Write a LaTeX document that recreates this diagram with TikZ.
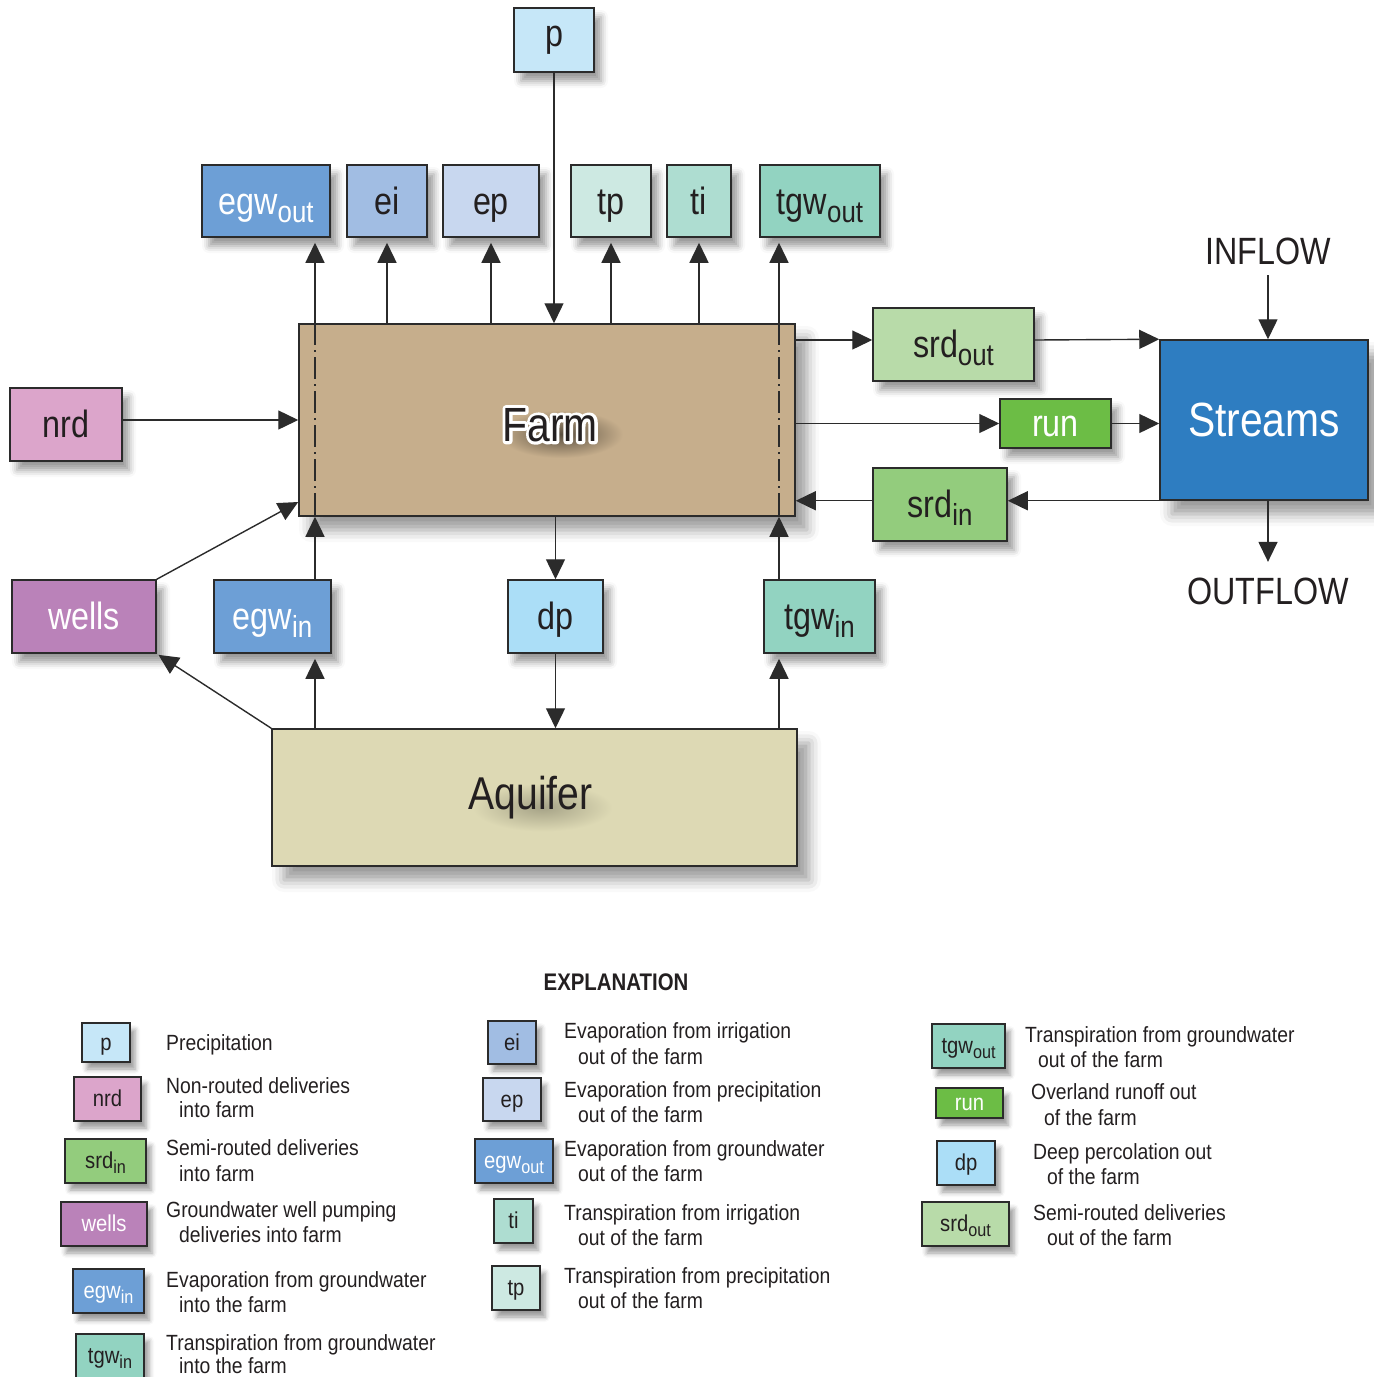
\documentclass[tikz,border=0pt]{standalone}
\usepackage{fontspec}
\setmainfont{Liberation Sans}[FakeStretch=0.85]
\newfontfamily\legf{Liberation Sans}[FakeStretch=0.88]
\usetikzlibrary{arrows.meta,shadows.blur,calc}
\definecolor{lc}{HTML}{2B2B2B}
\definecolor{tc}{HTML}{231F20}
\definecolor{cP}{HTML}{C6E7F8}
\definecolor{cEgw}{HTML}{6D9FD6}
\definecolor{cEi}{HTML}{A1BDE3}
\definecolor{cEp}{HTML}{C8D7EF}
\definecolor{cTp}{HTML}{CDE9E2}
\definecolor{cTi}{HTML}{AEDDD1}
\definecolor{cTgw}{HTML}{92D3C1}
\definecolor{cFarm}{HTML}{C6AE8C}
\definecolor{cSrdo}{HTML}{B8DBA9}
\definecolor{cRun}{HTML}{6CBD45}
\definecolor{cSrdi}{HTML}{93CC7D}
\definecolor{cStr}{HTML}{2E7DC1}
\definecolor{cNrd}{HTML}{DCA5CB}
\definecolor{cWells}{HTML}{BA82B9}
\definecolor{cDp}{HTML}{ABDEF7}
\definecolor{cAq}{HTML}{DDD9B4}
\newcommand\sbs[1]{\raisebox{-0.22em}{\scalebox{0.8}{#1}}}
\newcommand\farmfont{\fontsize{48}{52}\selectfont}
\newcommand\outlined[1]{\special{pdf:literal 2 Tr 1 1 1 RG 6 w 1 j}#1\special{pdf:literal 0 Tr 0.4 w 0 j}}
\begin{document}
\begin{tikzpicture}[x=1pt,y=-1pt,
  base/.style={draw=lc, line width=1.5pt, inner sep=0pt, text=tc},
  box/.style={base, font=\fontsize{38}{42}\selectfont, text height=26pt, text depth=0pt,
    blur shadow={shadow xshift=7pt,shadow yshift=-9pt,shadow blur radius=7pt,shadow opacity=40}},
  bigbox/.style={base,
    blur shadow={shadow xshift=12pt,shadow yshift=-14pt,shadow blur radius=12pt,shadow opacity=40}},
  lbox/.style={base, line width=1.2pt, font=\legf\fontsize{23}{26}\selectfont, text height=15pt, text depth=0pt,
    blur shadow={shadow xshift=5pt,shadow yshift=-7pt,shadow blur radius=5pt,shadow opacity=40}},
  ltx/.style={anchor=base west, inner sep=0pt, text=tc, font=\legf\fontsize{22}{24}\selectfont},
  arr/.style={line width=1.4pt, draw=lc, -{Triangle[length=20pt,width=19pt]}},
  gap/.style={shorten >=5pt},
  dsh/.style={line width=1.2pt, draw=lc, dash pattern=on 22pt off 5pt on 2pt off 5pt},
  bigtx/.style={inner sep=0pt, text=tc, font=\fontsize{38}{42}\selectfont}]
\useasboundingbox (0,0) rectangle (1374,1377);

% ---------- main boxes ----------
\node[box, fill=cP, text height=20pt, text depth=8pt, minimum width=80pt, minimum height=64pt] (p) at (554,40) {p};
\node[box, fill=cEgw, text=white, minimum width=128pt, minimum height=72pt] (egwo) at (266,201) {egw\sbs{out}};
\node[box, fill=cEi, minimum width=80pt, minimum height=72pt] (ei) at (387,201) {ei};
\node[box, fill=cEp, minimum width=96pt, minimum height=72pt] (ep) at (491,201) {ep};
\node[box, fill=cTp, minimum width=80pt, minimum height=72pt] (tp) at (611,201) {tp};
\node[box, fill=cTi, minimum width=64pt, minimum height=72pt] (ti) at (699,201) {ti};
\node[box, fill=cTgw, minimum width=120pt, minimum height=72pt] (tgwo) at (820,201) {tgw\sbs{out}};
\node[bigbox, fill=cFarm, minimum width=496pt, minimum height=192pt] (farm) at (547,420) {};
\node[box, fill=cSrdo, minimum width=161pt, minimum height=73pt] (srdo) at (953.5,344.5) {srd\sbs{out}};
\node[box, fill=cRun, text=white, minimum width=111pt, minimum height=49pt] (run) at (1055.5,423.5) {run};
\node[box, fill=cSrdi, minimum width=134pt, minimum height=73pt] (srdi) at (940,504.5) {srd\sbs{in}};
\node[bigbox, fill=cStr, text=white, font=\fontsize{48}{52}\selectfont, minimum width=208pt, minimum height=160pt] (str) at (1264,420) {Streams};
\node[box, fill=cNrd, minimum width=112pt, minimum height=73pt] (nrd) at (66,424.5) {nrd};
\node[box, fill=cWells, text=white, minimum width=144pt, minimum height=73pt] (wells) at (84,616.5) {wells};
\node[box, fill=cEgw, text=white, minimum width=117pt, minimum height=73pt] (egwi) at (272.5,616.5) {egw\sbs{in}};
\node[box, fill=cDp, minimum width=95pt, minimum height=73pt] (dp) at (555.5,616.5) {dp};
\node[box, fill=cTgw, minimum width=111pt, minimum height=73pt] (tgwi) at (819.5,616.5) {tgw\sbs{in}};
\node[bigbox, fill=cAq, minimum width=525pt, minimum height=137pt] (aq) at (534.5,797.5) {};
\node[bigtx] (inflow) at (1268,251.5) {INFLOW};
\node[bigtx] (outflow) at (1268,591.5) {OUTFLOW};

% soft shadows behind the Farm and Aquifer labels
\shade[inner color=black!55!cFarm, outer color=cFarm] ($(farm.center)+(14,14)$) ellipse (62pt and 24pt);
\shade[inner color=black!25!cAq, outer color=cAq] ($(aq.center)+(8,10)$) ellipse (70pt and 24pt);

% Farm label with white outline
\node[text=white, font=\farmfont] (farmout) at ($(farm.center)+(3,5)$) {\outlined{Farm}};
\node[text=tc, font=\farmfont] (farmlbl) at ($(farm.center)+(3,5)$) {Farm};
\node[text=tc, font=\fontsize{46}{50}\selectfont] (aqlbl) at ($(aq.center)+(-4,0)$) {Aquifer};

% ---------- connectors ----------
\coordinate (xl) at (315,0);
\coordinate (xr) at (779,0);
\coordinate (y1) at (0,340);
\coordinate (ynrd) at (0,420);
\coordinate (yw) at (0,502);

\draw[dsh] (farm.north -| xl) -- (farm.south -| xl);
\draw[dsh] (farm.north -| xr) -- (farm.south -| xr);

\draw[arr, gap] (farm.north -| xl) -- (egwo.south -| xl);
\draw[arr, gap] (farm.north -| ei) -- (ei.south);
\draw[arr, gap] (farm.north -| ep) -- (ep.south);
\draw[arr, gap] (farm.north -| tp) -- (tp.south);
\draw[arr, gap] (farm.north -| ti) -- (ti.south);
\draw[arr, gap] (farm.north -| xr) -- (tgwo.south -| xr);
\draw[arr] (p.south) -- (farm.north -| p);

\draw[arr] (egwi.north -| xl) -- (farm.south -| xl);
\draw[arr, gap] (aq.north -| xl) -- (egwi.south -| xl);
\draw[arr] (tgwi.north -| xr) -- (farm.south -| xr);
\draw[arr, gap] (aq.north -| xr) -- (tgwi.south -| xr);
\draw[arr] (farm.south -| dp) -- (dp.north);
\draw[arr] (dp.south) -- (aq.north -| dp);

\draw[arr] (nrd.east |- ynrd) -- (farm.west |- ynrd);
\draw[arr] (wells.north east) -- (farm.west |- yw);
\draw[arr, shorten >=2pt] (aq.north west) -- (wells.south east);

\draw[arr] (farm.east |- y1) -- (srdo.west |- y1);
\draw[arr] (srdo.east |- y1) -- (str.north west);
\draw[arr] (farm.east |- run) -- (run.west);
\draw[arr] (run.east) -- (str.west |- run);
\draw[arr] (str.south west) -- (srdi.east |- str.south west);
\draw[arr] (srdi.west |- str.south west) -- (farm.east |- str.south west);

\draw[arr] ($(inflow.south)+(0,10)$) -- (str.north -| inflow);
\draw[arr] (str.south -| outflow) -- ($(outflow.north)+(0,-16)$);

% ---------- explanation ----------
\node[inner sep=0pt, text=tc, font=\bfseries\fontsize{24}{26}\selectfont] (expl) at (616,982) {EXPLANATION};

% column 1
\node[lbox, fill=cP, minimum width=48pt, minimum height=39pt] (Lp) at (106,1042.5) {p};
\node[ltx] (Tp) at (166,1050) {Precipitation};
\node[lbox, fill=cNrd, minimum width=67pt, minimum height=44pt] (Lnrd) at (107.5,1099) {nrd};
\node[ltx] (Tnrd1) at (166,1093) {Non-routed deliveries};
\node[ltx] (Tnrd2) at (179,1117) {into farm};
\node[lbox, fill=cSrdi, minimum width=81pt, minimum height=44pt] (Lsrdi) at (105.5,1161) {srd\sbs{in}};
\node[ltx] (Tsrdi1) at (166,1155) {Semi-routed deliveries};
\node[ltx] (Tsrdi2) at (179,1181) {into farm};
\node[lbox, fill=cWells, text=white, minimum width=86pt, minimum height=44pt] (Lwells) at (104,1224) {wells};
\node[ltx] (Twells1) at (166,1217) {Groundwater well pumping};
\node[ltx] (Twells2) at (179,1242) {deliveries into farm};
\node[lbox, fill=cEgw, text=white, minimum width=71pt, minimum height=44pt] (Legwi) at (108.5,1291) {egw\sbs{in}};
\node[ltx] (Tegwi1) at (166,1287) {Evaporation from groundwater};
\node[ltx] (Tegwi2) at (179,1312) {into the farm};
\node[lbox, fill=cTgw, minimum width=68pt, minimum height=44pt] (Ltgwi) at (110,1356) {tgw\sbs{in}};
\node[ltx] (Ttgwi1) at (166,1350) {Transpiration from groundwater};
\node[ltx] (Ttgwi2) at (179,1373.5) {into the farm};

% column 2
\node[lbox, fill=cEi, minimum width=48pt, minimum height=43pt] (Lei) at (512,1042.5) {ei};
\node[ltx] (Tei1) at (564,1038) {Evaporation from irrigation};
\node[ltx] (Tei2) at (578,1064) {out of the farm};
\node[lbox, fill=cEp, minimum width=58pt, minimum height=43pt] (Lep) at (512,1099.5) {ep};
\node[ltx] (Tep1) at (564,1097) {Evaporation from precipitation};
\node[ltx] (Tep2) at (578,1122) {out of the farm};
\node[lbox, fill=cEgw, text=white, minimum width=78pt, minimum height=44pt] (Legwo) at (514,1161) {egw\sbs{out}};
\node[ltx] (Tegwo1) at (564,1156) {Evaporation from groundwater};
\node[ltx] (Tegwo2) at (578,1181) {out of the farm};
\node[lbox, fill=cTi, minimum width=39pt, minimum height=44pt] (Lti) at (513.5,1221) {ti};
\node[ltx] (Tti1) at (564,1220) {Transpiration from irrigation};
\node[ltx] (Tti2) at (578,1245) {out of the farm};
\node[lbox, fill=cTp, minimum width=48pt, minimum height=44pt] (Ltp) at (516,1288) {tp};
\node[ltx] (Ttp1) at (564,1283) {Transpiration from precipitation};
\node[ltx] (Ttp2) at (578,1308) {out of the farm};

% column 3
\node[lbox, fill=cTgw, minimum width=73pt, minimum height=44pt] (Ltgwo) at (968.5,1046) {tgw\sbs{out}};
\node[ltx] (Ttgwo1) at (1025,1042) {Transpiration from groundwater};
\node[ltx] (Ttgwo2) at (1038,1067) {out of the farm};
\node[lbox, fill=cRun, text=white, minimum width=67pt, minimum height=30pt] (Lrun) at (969.5,1103) {run};
\node[ltx] (Trun1) at (1031,1099) {Overland runoff out};
\node[ltx] (Trun2) at (1044,1125) {of the farm};
\node[lbox, fill=cDp, minimum width=58pt, minimum height=44pt] (Ldp) at (966,1163) {dp};
\node[ltx] (Tdp1) at (1033,1159) {Deep percolation out};
\node[ltx] (Tdp2) at (1047,1184) {of the farm};
\node[lbox, fill=cSrdo, minimum width=87pt, minimum height=44pt] (Lsrdo) at (965.5,1224) {srd\sbs{out}};
\node[ltx] (Tsrdo1) at (1033,1220) {Semi-routed deliveries};
\node[ltx] (Tsrdo2) at (1047,1245) {out of the farm};
\end{tikzpicture}
\end{document}
